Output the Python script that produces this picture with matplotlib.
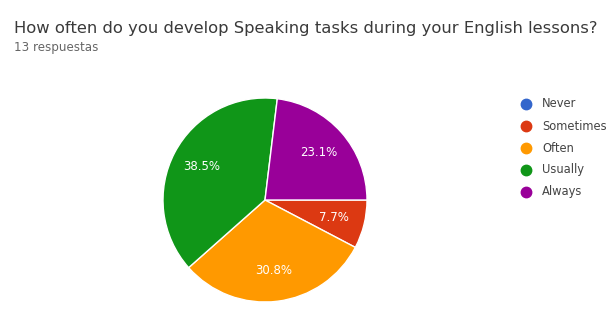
import matplotlib.pyplot as plt
from matplotlib.lines import Line2D

title = 'How often do you develop Speaking tasks during your English lessons?'
subtitle = '13 respuestas'
labels = ['Never', 'Sometimes', 'Often', 'Usually', 'Always']
counts = [0, 1, 4, 5, 3]
colors = ['#3366cc', '#dc3912', '#ff9900', '#109618', '#990099']

plt.rcParams['font.family'] = ['DejaVu Sans']

W, H = 610, 323
fig = plt.figure(figsize=[W / 100, H / 100], dpi=100)
fig.text(14 / W, 1 - 28 / H, title, fontsize=11.75, color='#3a3a3a', va='center')
fig.text(14 / W, 1 - 48 / H, subtitle, fontsize=8.6, color='#666666', va='center')

# pie, clockwise from 3 o'clock
ax = fig.add_axes([(265 - 102) / W, (123 - 102) / H, 204 / W, 204 / H])


def pct(p):
    return '%.1f%%' % p if p > 0 else ''


wedges, texts, autotexts = ax.pie(counts, colors=colors, startangle=0, counterclock=False,
                                  autopct=pct, pctdistance=0.7,
                                  wedgeprops={'edgecolor': 'white', 'linewidth': 1},
                                  textprops={'color': 'white', 'fontsize': 8.5})
ax.set_xlim(-1, 1)
ax.set_ylim(-1, 1)
ax.set_aspect('equal')

# legend drawn by hand, one row every 22 px
for i, (lab, c) in enumerate(zip(labels, colors)):
    y = 1 - (104 + 22 * i) / H
    fig.add_artist(Line2D([526 / W], [y], marker='o', markersize=7.5, color=c,
                          linestyle='', transform=fig.transFigure))
    fig.text(542 / W, y, lab, fontsize=8.3, color='#444444', va='center')

plt.savefig('out.png', dpi=100)
